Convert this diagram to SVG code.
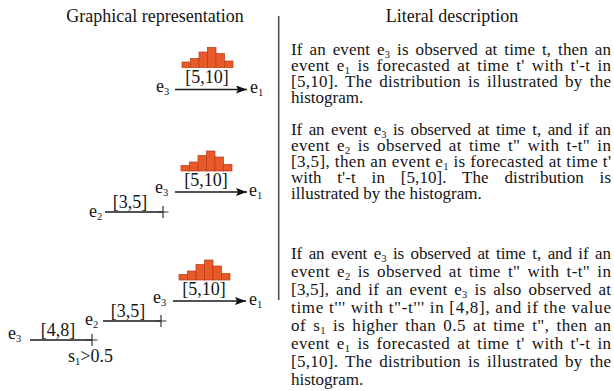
<svg xmlns="http://www.w3.org/2000/svg" width="614" height="391" viewBox="0 0 614 391">
<style>
text{font-family:"Liberation Serif","Times New Roman",serif;fill:#141414}
.t{font-size:18px}
.b{font-size:17px}
.j{word-spacing:2.5px}
.l{font-size:18px}
.sb{font-size:10.5px}
.ln{stroke:#1a1a1a;stroke-width:1.4;fill:none}
.pl{stroke:#333;stroke-width:1.2;fill:none}
.bar{fill:#e85a2a;stroke:#b53b12;stroke-width:0.7}
</style>
<defs>
<marker id="ah" markerWidth="11" markerHeight="8" refX="11" refY="4" orient="auto" markerUnits="userSpaceOnUse">
<path d="M0,0 L11,4 L0,8 L2,4 z" fill="#111"/>
</marker>
<g id="hist">
<rect class="bar" x="0" y="-5.5" width="8.5" height="5.5"/>
<rect class="bar" x="8.5" y="-9" width="8.5" height="9"/>
<rect class="bar" x="17" y="-15.5" width="8.5" height="15.5"/>
<rect class="bar" x="25.5" y="-20" width="8.5" height="20"/>
<rect class="bar" x="34" y="-14" width="8.5" height="14"/>
<rect class="bar" x="42.5" y="-6.5" width="8.5" height="6.5"/>
</g>
<path id="plus" d="M-5.5,0 H5.5 M0,-6 V6"/>
</defs>
<rect width="614" height="391" fill="#fff"/>

<g id="titles">
<text class="t" x="155" y="22" text-anchor="middle">Graphical representation</text>
<text class="t" x="452" y="22" text-anchor="middle">Literal description</text>
</g>
<line id="divider" x1="278.7" y1="16" x2="278.7" y2="300" stroke="#555" stroke-width="1.6"/>

<g id="histograms">
<use href="#hist" transform="translate(182,67.5)"/>
<use href="#hist" transform="translate(181,171)"/>
<use href="#hist" transform="translate(179,280)"/>
</g>

<g id="connectors">
<line class="ln" x1="175" y1="89.5" x2="247" y2="89.5" marker-end="url(#ah)"/>
<line class="ln" x1="175" y1="192" x2="247" y2="192" marker-end="url(#ah)"/>
<line class="ln" x1="173" y1="301" x2="246" y2="301" marker-end="url(#ah)"/>
<line class="ln" x1="105" y1="212" x2="163" y2="212"/>
<use class="pl" href="#plus" transform="translate(163,212)"/>
<line class="ln" x1="103" y1="321" x2="161" y2="321"/>
<use class="pl" href="#plus" transform="translate(161,321)"/>
<line class="ln" x1="30" y1="340" x2="92" y2="340"/>
<use class="pl" href="#plus" transform="translate(92,340)"/>
</g>

<g id="labels">
<text class="l" x="207" y="83" text-anchor="middle">[5,10]</text>
<text class="l" x="206" y="186" text-anchor="middle">[5,10]</text>
<text class="l" x="204" y="295" text-anchor="middle">[5,10]</text>
<text class="l" x="130" y="208" text-anchor="middle">[3,5]</text>
<text class="l" x="128" y="317" text-anchor="middle">[3,5]</text>
<text class="l" x="58" y="336" text-anchor="middle">[4,8]</text>
</g>

<g id="node-r1-e3"><text class="l" x="156" y="92">e<tspan class="sb" dy="3">3</tspan></text></g>
<g id="node-r1-e1"><text class="l" x="250" y="93">e<tspan class="sb" dy="3">1</tspan></text></g>
<g id="node-r2-e3"><text class="l" x="155" y="193">e<tspan class="sb" dy="3">3</tspan></text></g>
<g id="node-r2-e1"><text class="l" x="249" y="196">e<tspan class="sb" dy="3">1</tspan></text></g>
<g id="node-r2-e2"><text class="l" x="89" y="217">e<tspan class="sb" dy="3">2</tspan></text></g>
<g id="node-r3-e3"><text class="l" x="153" y="303">e<tspan class="sb" dy="3">3</tspan></text></g>
<g id="node-r3-e1"><text class="l" x="249" y="305">e<tspan class="sb" dy="3">1</tspan></text></g>
<g id="node-r3-e2"><text class="l" x="85" y="325">e<tspan class="sb" dy="3">2</tspan></text></g>
<g id="node-r3-e3b"><text class="l" x="8" y="339">e<tspan class="sb" dy="3">3</tspan></text></g>
<g id="node-r3-s1"><text class="l" x="68" y="362">s<tspan class="sb" dy="3">1</tspan><tspan dy="-3">&gt;0.5</tspan></text></g>

<g id="description">
<text class="b j" x="291" y="55" textLength="320" lengthAdjust="spacing">If an event e<tspan class="sb" dy="3">3</tspan><tspan dy="-3"> is observed at time t, then an</tspan></text>
<text class="b j" x="291" y="71" textLength="320" lengthAdjust="spacing">event e<tspan class="sb" dy="3">1</tspan><tspan dy="-3"> is forecasted at time t' with t'-t in</tspan></text>
<text class="b j" x="291" y="87" textLength="320" lengthAdjust="spacing">[5,10]. The distribution is illustrated by the</text>
<text class="b" x="291" y="103">histogram.</text>

<text class="b j" x="291" y="135" textLength="320" lengthAdjust="spacing">If an event e<tspan class="sb" dy="3">3</tspan><tspan dy="-3"> is observed at time t, and if an</tspan></text>
<text class="b j" x="291" y="151" textLength="320" lengthAdjust="spacing">event e<tspan class="sb" dy="3">2</tspan><tspan dy="-3"> is observed at time t" with t-t" in</tspan></text>
<text class="b" x="291" y="167" textLength="320" lengthAdjust="spacing">[3,5], then an event e<tspan class="sb" dy="3">1</tspan><tspan dy="-3"> is forecasted at time t'</tspan></text>
<text class="b" x="291" y="183" textLength="320" lengthAdjust="spacing" style="word-spacing:11.5px">with t'-t in [5,10]. The distribution is</text>
<text class="b" x="291" y="199">illustrated by the histogram.</text>

<text class="b j" x="291" y="259" textLength="320" lengthAdjust="spacing">If an event e<tspan class="sb" dy="3">3</tspan><tspan dy="-3"> is observed at time t, and if an</tspan></text>
<text class="b j" x="291" y="277" textLength="320" lengthAdjust="spacing">event e<tspan class="sb" dy="3">2</tspan><tspan dy="-3"> is observed at time t" with t-t" in</tspan></text>
<text class="b j" x="291" y="295" textLength="320" lengthAdjust="spacing">[3,5], and if an event e<tspan class="sb" dy="3">3</tspan><tspan dy="-3"> is also observed at</tspan></text>
<text class="b" x="291" y="313" textLength="320" lengthAdjust="spacing">time t''' with t"-t''' in [4,8], and if the value</text>
<text class="b j" x="291" y="331" textLength="320" lengthAdjust="spacing">of s<tspan class="sb" dy="3">1</tspan><tspan dy="-3"> is higher than 0.5 at time t", then an</tspan></text>
<text class="b j" x="291" y="349" textLength="320" lengthAdjust="spacing">event e<tspan class="sb" dy="3">1</tspan><tspan dy="-3"> is forecasted at time t' with t'-t in</tspan></text>
<text class="b j" x="291" y="367" textLength="320" lengthAdjust="spacing">[5,10]. The distribution is illustrated by the</text>
<text class="b" x="291" y="385">histogram.</text>
</g>
</svg>
